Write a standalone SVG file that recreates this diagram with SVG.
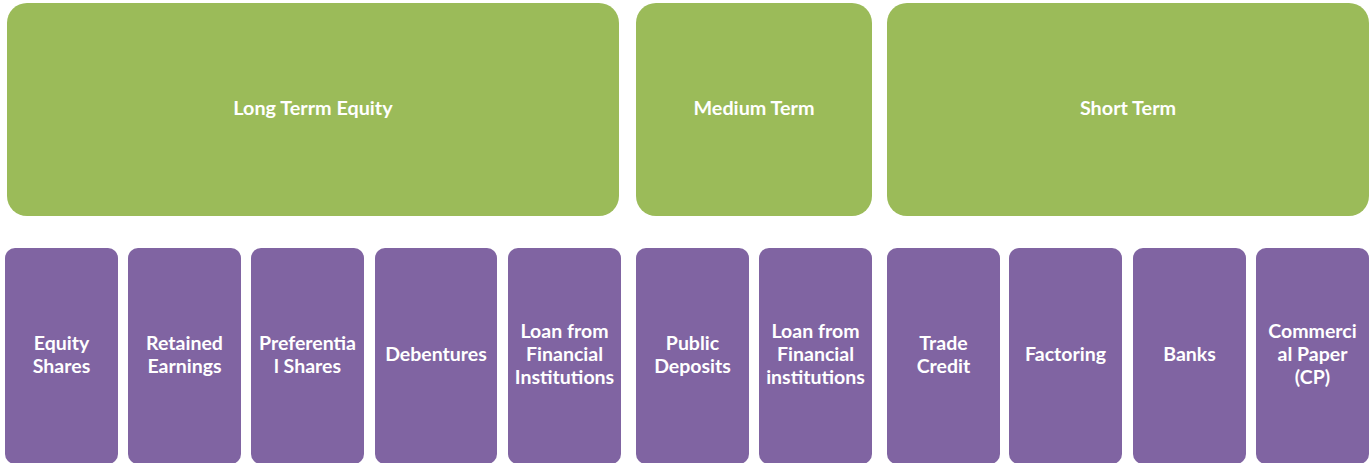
<svg xmlns="http://www.w3.org/2000/svg" width="1371" height="463" viewBox="0 0 1371 463">
<style>
.g{fill:#9BBB59}
.p{fill:#8064A2}
text{font-family:Lato,"Open Sans","Liberation Sans",sans-serif;font-weight:bold;fill:#fff;text-anchor:middle;font-size:19.5px}
.t{font-size:19.8px}
</style>
<rect width="1371" height="463" fill="#fff"/>
<g id="long-term"><rect class="g" x="7" y="3" width="612" height="213" rx="20"/><text class="t" x="313" y="115">Long Terrm Equity</text></g>
<g id="medium-term"><rect class="g" x="636" y="3" width="236" height="213" rx="20"/><text class="t" x="754" y="115">Medium Term</text></g>
<g id="short-term"><rect class="g" x="887" y="3" width="482" height="213" rx="20"/><text class="t" x="1128" y="115">Short Term</text></g>
<g id="equity-shares"><rect class="p" x="5" y="248" width="113" height="216" rx="10"/><text x="61.5" y="350">Equity</text><text x="61.5" y="373">Shares</text></g>
<g id="retained-earnings"><rect class="p" x="128" y="248" width="113" height="216" rx="10"/><text x="184.5" y="350">Retained</text><text x="184.5" y="373">Earnings</text></g>
<g id="preferential-shares"><rect class="p" x="251" y="248" width="113" height="216" rx="10"/><text x="307.5" y="350">Preferentia</text><text x="307.5" y="373">l Shares</text></g>
<g id="debentures"><rect class="p" x="375" y="248" width="122" height="216" rx="10"/><text x="436" y="361">Debentures</text></g>
<g id="loan-fi-long"><rect class="p" x="508" y="248" width="113" height="216" rx="10"/><text x="564.5" y="338">Loan from</text><text x="564.5" y="361">Financial</text><text x="564.5" y="384">Institutions</text></g>
<g id="public-deposits"><rect class="p" x="636" y="248" width="113" height="216" rx="10"/><text x="692.5" y="350">Public</text><text x="692.5" y="373">Deposits</text></g>
<g id="loan-fi-medium"><rect class="p" x="759" y="248" width="113" height="216" rx="10"/><text x="815.5" y="338">Loan from</text><text x="815.5" y="361">Financial</text><text x="815.5" y="384">institutions</text></g>
<g id="trade-credit"><rect class="p" x="887" y="248" width="113" height="216" rx="10"/><text x="943.5" y="350">Trade</text><text x="943.5" y="373">Credit</text></g>
<g id="factoring"><rect class="p" x="1009" y="248" width="113" height="216" rx="10"/><text x="1065.5" y="361">Factoring</text></g>
<g id="banks"><rect class="p" x="1133" y="248" width="113" height="216" rx="10"/><text x="1189.5" y="361">Banks</text></g>
<g id="commercial-paper"><rect class="p" x="1256" y="248" width="113" height="216" rx="10"/><text x="1312.5" y="338">Commerci</text><text x="1312.5" y="361">al Paper</text><text x="1312.5" y="384">(CP)</text></g>
<g id="connectors"/>
</svg>
